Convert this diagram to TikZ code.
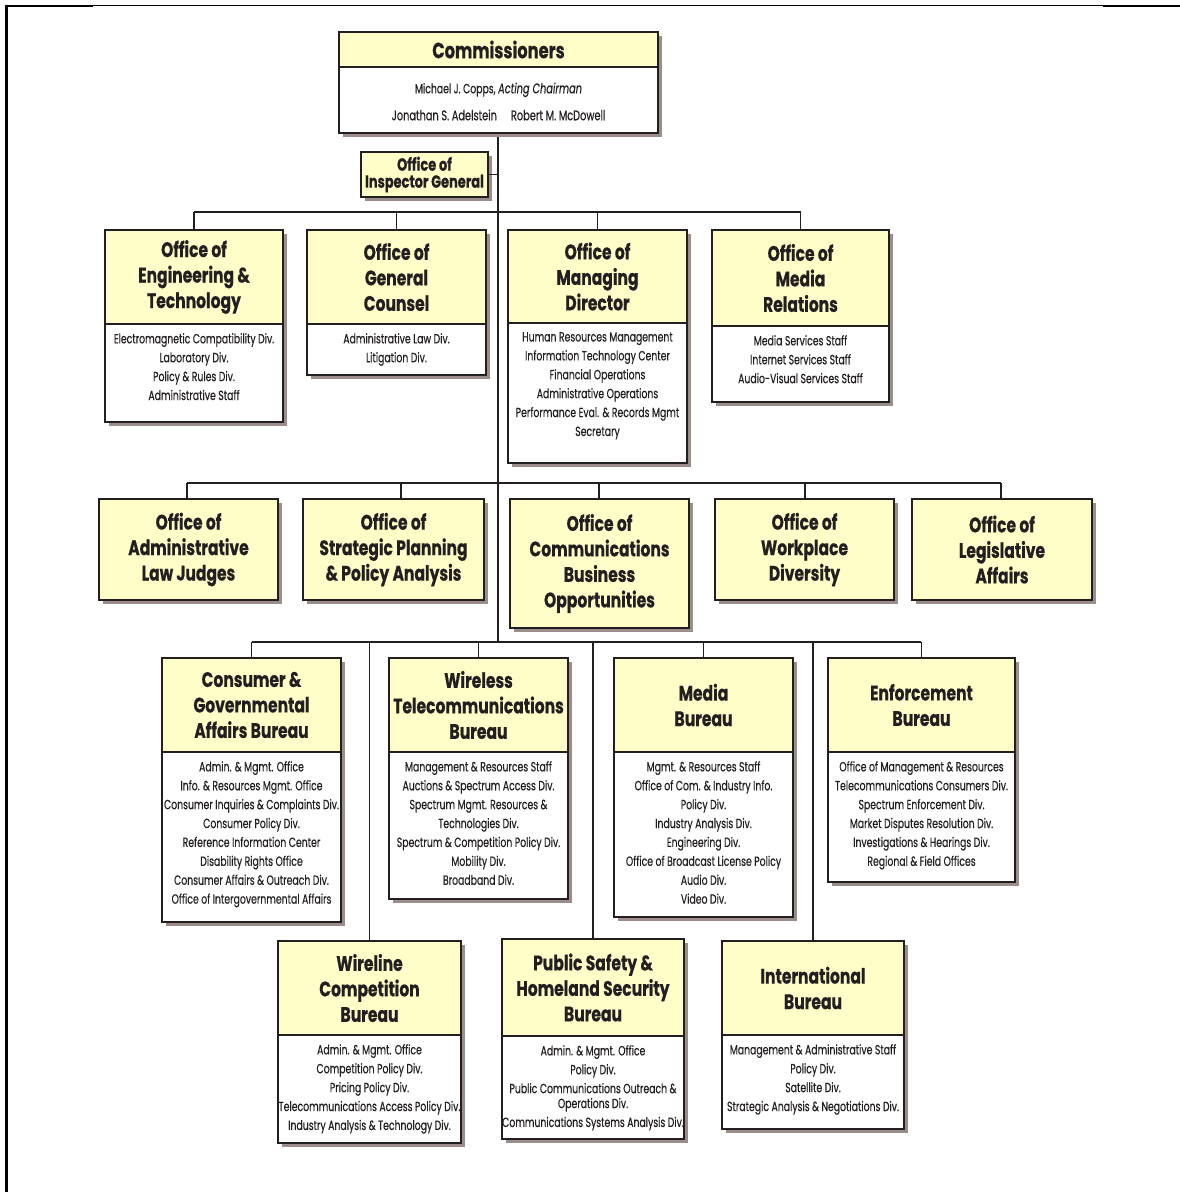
\documentclass[tikz,border=0pt]{standalone}
\usepackage{fontspec}
\setmainfont{Poppins}
\newfontfamily\headfont{Poppins}[FakeStretch=0.74, FakeBold=0.5]
\newfontfamily\bodyfont{Poppins}[FakeStretch=0.70, FakeBold=0.35]
\definecolor{inkc}{RGB}{35,31,32}
\definecolor{headc}{RGB}{255,253,200}
\definecolor{shadowc}{RGB}{155,142,138}
\tikzset{
  unitbox/.style={draw=inkc, line width=1.8pt, fill=white, inner sep=0pt, outer sep=0pt},
  headbox/.style={draw=inkc, line width=1.8pt, fill=headc, inner sep=0pt, outer sep=0pt,
    align=center, text=inkc, font=\headfont\bfseries\fontsize{21}{25.5}\selectfont},
  bodytext/.style={inner sep=0pt, align=center, text=inkc,
    font=\bodyfont\fontsize{13.3}{18.9}\selectfont},
  link/.style={draw=inkc, line width=1.4pt},
}
% unit with a yellow title band and a white list of divisions
% #1 name, #2 left, #3 top, #4 right, #5 band bottom, #6 bottom, #7 title, #8 divisions
\newcommand\orgunit[8]{%
  \fill[shadowc] (#2+4,#3+4) rectangle (#4+4,#6+4);
  \node[unitbox, minimum width={(#4-#2)*1pt}, minimum height={(#6-#3)*1pt}]
    (#1) at ({(#2+#4)/2},{(#3+#6)/2}) {};
  \node[headbox, minimum width={(#4-#2)*1pt}, minimum height={(#5-#3)*1pt}]
    (#1-h) at ({(#2+#4)/2},{(#3+#5)/2}) {#7};
  \node[bodytext, anchor=north] (#1-b) at ({(#2+#4)/2},#5+9) {#8};
}
% unit made of the title band only
% [#1 extra style] #2 name, #3 left, #4 top, #5 right, #6 bottom, #7 title
\newcommand\orgoffice[7][]{%
  \fill[shadowc] (#3+4,#4+4) rectangle (#5+4,#6+4);
  \node[headbox, minimum width={(#5-#3)*1pt}, minimum height={(#6-#4)*1pt}, #1]
    (#2) at ({(#3+#5)/2},{(#4+#6)/2}) {#7};
}
\begin{document}
\begin{tikzpicture}[x=1pt, y=-1pt]
\useasboundingbox[fill=white] (0,0) rectangle (1180,1192);

% page rules
\draw[black, line width=1.3pt] (6,5.5) -- (1180,5.5);
\draw[black, line width=2.2pt] (6,5.8) -- (93,5.8);
\draw[black, line width=2.2pt] (1103,6) -- (1180,6);
\draw[black, line width=2.2pt] (6.5,4.5) -- (6.5,1192);

% trunk points
\coordinate (t1) at (498,212);
\coordinate (t2) at (498,483);
\coordinate (t3) at (498,642);

% connectors
\draw[link] (498,133) -- (t3);
\draw[link] (194,212) -- (800.5,212);
\draw[link] (187,483) -- (1001,483);
\draw[link] (252,642) -- (921,642);

% commissioners
\fill[shadowc] (343,36) rectangle (662,137);
\node[unitbox, minimum width=319pt, minimum height=101pt] (comm) at (498.5,82.5) {};
\node[headbox, minimum width=319pt, minimum height=35pt,
  font=\headfont\bfseries\fontsize{22}{26}\selectfont] (comm-h) at (498.5,49.5) {Commissioners};
\node[bodytext, font=\bodyfont\fontsize{14}{27}\selectfont] (comm-b) at (498.5,101.5)
  {{\fontsize{13.3}{27}\selectfont Michael J. Copps,} {\fontsize{14}{27}\selectfont\itshape Acting Chairman}\\
   Jonathan S. Adelstein\quad Robert M. McDowell};

% inspector general
\orgoffice[font=\headfont\bfseries\fontsize{17.5}{17}\selectfont]{oig}{361}{152}{488}{197}{Office of\\Inspector General}
\draw[link] (oig.east) -- (oig.east -| t1);

% first row of offices
\orgunit{oet}{105}{230}{283}{324}{422}{Office of\\Engineering \&\\Technology}
  {Electromagnetic Compatibility Div.\\Laboratory Div.\\Policy \& Rules Div.\\Administrative Staff}
\orgunit{ogc}{307}{230}{486}{324}{375}{Office of\\General\\Counsel}
  {Administrative Law Div.\\Litigation Div.}
\orgunit{omd}{508}{230}{687}{323}{463}{Office of\\Managing\\Director}
  {Human Resources Management\\Information Technology Center\\Financial Operations\\Administrative Operations\\Performance Eval. \& Records Mgmt\\Secretary}
\orgunit{omr}{712}{230}{889}{326}{402}{Office of\\Media\\Relations}
  {Media Services Staff\\Internet Services Staff\\Audio-Visual Services Staff}
\foreach \n in {oet-h,ogc-h,omd-h,omr-h} \draw[link] (\n.north) -- (\n.north |- t1);

% second row of offices
\orgoffice{alj}{99}{499}{278}{600}{Office of\\Administrative\\Law Judges}
\orgoffice{osp}{303}{499}{484}{600}{Office of\\Strategic Planning\\\& Policy Analysis}
\orgoffice{ocbo}{510}{499}{689}{628}{Office of\\Communications\\Business\\Opportunities}
\orgoffice{owd}{715}{499}{894}{600}{Office of\\Workplace\\Diversity}
\orgoffice{ola}{912}{499}{1092}{600}{Office of\\Legislative\\Affairs}
\coordinate (d-alj) at (187,483);
\coordinate (d-osp) at (401,483);
\coordinate (d-ocbo) at (599,483);
\coordinate (d-owd) at (805,483);
\coordinate (d-ola) at (1001,483);
\foreach \n in {alj,osp,ocbo,owd,ola} \draw[link] (d-\n) -- (d-\n |- \n.north);

% bureaus, upper row
\orgunit{cgb}{162}{658}{341}{752}{922}{Consumer \&\\Governmental\\Affairs Bureau}
  {Admin. \& Mgmt. Office\\Info. \& Resources Mgmt. Office\\Consumer Inquiries \& Complaints Div.\\Consumer Policy Div.\\Reference Information Center\\Disability Rights Office\\Consumer Affairs \& Outreach Div.\\Office of Intergovernmental Affairs}
\orgunit{wtb}{389}{658}{568}{752}{899}{Wireless\\Telecommunications\\Bureau}
  {Management \& Resources Staff\\Auctions \& Spectrum Access Div.\\Spectrum Mgmt. Resources \&\\Technologies Div.\\Spectrum \& Competition Policy Div.\\Mobility Div.\\Broadband Div.}
\orgunit{mb}{614}{658}{793}{752}{917}{Media\\Bureau}
  {Mgmt. \& Resources Staff\\Office of Com. \& Industry Info.\\Policy Div.\\Industry Analysis Div.\\Engineering Div.\\Office of Broadcast License Policy\\Audio Div.\\Video Div.}
\orgunit{eb}{828}{658}{1015}{752}{882}{Enforcement\\Bureau}
  {Office of Management \& Resources\\Telecommunications Consumers Div.\\Spectrum Enforcement Div.\\Market Disputes Resolution Div.\\Investigations \& Hearings Div.\\Regional \& Field Offices}
\foreach \n in {cgb-h,wtb-h,mb-h,eb-h} \draw[link] (\n.north) -- (\n.north |- t3);

% bureaus, lower row
\orgunit{wcb}{278}{941}{461}{1035}{1143}{Wireline\\Competition\\Bureau}
  {Admin. \& Mgmt. Office\\Competition Policy Div.\\Pricing Policy Div.\\Telecommunications Access Policy Div.\\Industry Analysis \& Technology Div.}
\orgunit{pshsb}{502}{939}{684}{1036}{1139}{Public Safety \&\\Homeland Security\\Bureau}
  {Admin. \& Mgmt. Office\\Policy Div.\\Public Communications Outreach \&\\[-4pt]Operations Div.\\Communications Systems Analysis Div.}
\orgunit{ib}{722}{941}{904}{1035}{1129}{International\\Bureau}
  {Management \& Administrative Staff\\Policy Div.\\Satellite Div.\\Strategic Analysis \& Negotiations Div.}
\foreach \n in {wcb-h,pshsb-h,ib-h} \draw[link] (\n.north) -- (\n.north |- t3);
\end{tikzpicture}
\end{document}
